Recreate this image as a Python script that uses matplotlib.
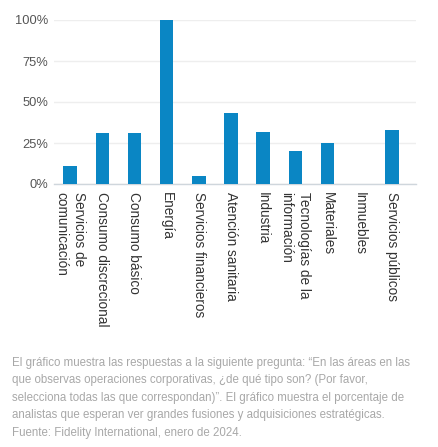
import matplotlib
matplotlib.use("Agg")
import matplotlib.pyplot as plt
import matplotlib.transforms as mtransforms

plt.rcParams['font.family'] = ['Liberation Sans', 'DejaVu Sans']

# datos
sectores = ["Servicios de\ncomunicación", "Consumo discrecional", "Consumo básico",
            "Energía", "Servicios financieros", "Atención sanitaria", "Industria",
            "Tecnologías de la\ninformación", "Materiales", "Inmuebles",
            "Servicios públicos"]
porcentajes = [11, 31, 31, 100, 5, 43, 32, 20, 25, 0, 33]
yticks = [0, 25, 50, 75, 100]
ytick_labels = ["0%", "25%", "50%", "75%", "100%"]

nota = ("El gráfico muestra las respuestas a la siguiente pregunta: “En las áreas en las\n"
        "que observas operaciones corporativas, ¿de qué tipo son? (Por favor,\n"
        "selecciona todas las que correspondan)”. El gráfico muestra el porcentaje de\n"
        "analistas que esperan ver grandes fusiones y adquisiciones estratégicas.\n"
        "Fuente: Fidelity International, enero de 2024.")

fig = plt.figure(figsize=(4.39, 4.47), dpi=100)
ax = fig.add_axes([54/439, 1-184/447, (416-54)/439, (184-20)/447])

x = list(range(len(sectores)))
ax.bar(x, porcentajes, width=0.42, color='#0a86c4', zorder=3, clip_on=False)

ax.set_xlim(-0.5, 10.75)
ax.set_ylim(0, 100)
ax.set_yticks(yticks)
ax.set_yticklabels(ytick_labels, fontsize=9.3, color='#555555')
ax.yaxis.grid(True, color='#eeeeee', linewidth=1, zorder=0)
ax.tick_params(axis='y', length=0, pad=4)
ax.set_xticks([])
for s in ['top', 'right', 'left']:
    ax.spines[s].set_visible(False)
ax.spines['bottom'].set_color('#cfd6dc')
ax.spines['bottom'].set_linewidth(1)

# etiquetas verticales: cada linea por separado para alinearlas arriba
trans = mtransforms.blended_transform_factory(ax.transData, ax.transAxes)
paso = 0.56  # separacion entre lineas, en unidades de categoria
for xi, nombre in zip(x, sectores):
    lineas = nombre.split("\n")
    n = len(lineas)
    for j, linea in enumerate(lineas):
        dx = ((n - 1) / 2 - j) * paso
        ax.text(xi + dx, -8/164, linea, transform=trans, rotation=-90,
                ha='center', va='top', fontsize=9.8, color='#333333')

fig.text(12/439, 1-357/447, nota, fontsize=8.3, color='#a8a8a8', va='top',
         ha='left', linespacing=1.6)

fig.savefig("out.png", dpi=100, facecolor='white')
